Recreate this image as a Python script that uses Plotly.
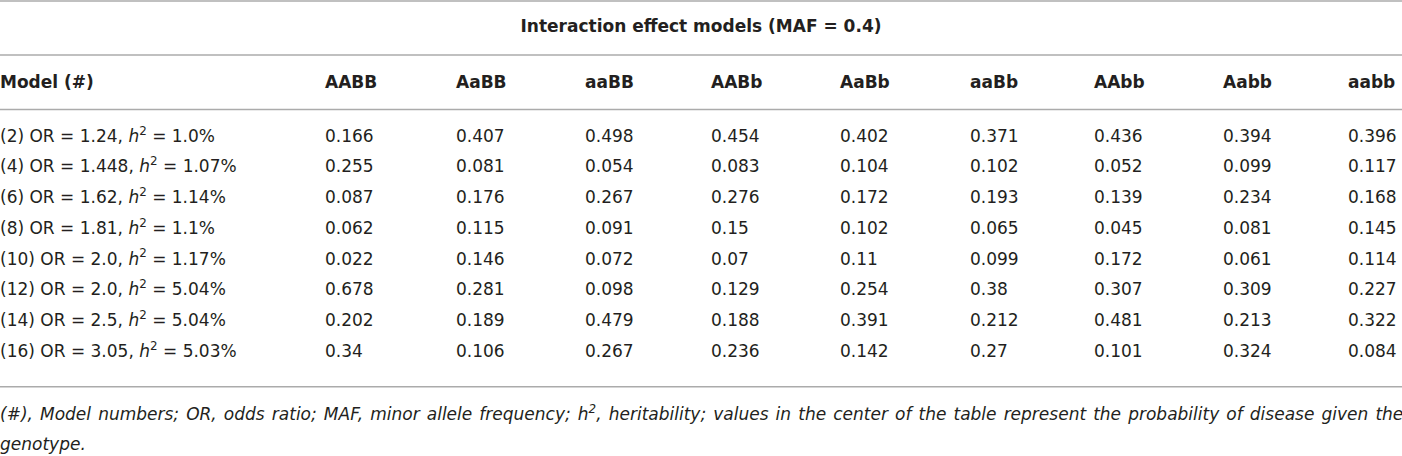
import plotly.graph_objects as go

# ---------------- data ----------------
title_text = "Interaction effect models (MAF = 0.4)"
first_header = "Model (#)"
genotypes = ["AABB", "AaBB", "aaBB", "AABb", "AaBb", "aaBb", "AAbb", "Aabb", "aabb"]
model_numbers = [2, 4, 6, 8, 10, 12, 14, 16]
odds_ratios = ["1.24", "1.448", "1.62", "1.81", "2.0", "2.0", "2.5", "3.05"]
heritabilities = ["1.0", "1.07", "1.14", "1.1", "1.17", "5.04", "5.04", "5.03"]

AABB = ["0.166", "0.255", "0.087", "0.062", "0.022", "0.678", "0.202", "0.34"]
AaBB = ["0.407", "0.081", "0.176", "0.115", "0.146", "0.281", "0.189", "0.106"]
aaBB = ["0.498", "0.054", "0.267", "0.091", "0.072", "0.098", "0.479", "0.267"]
AABb = ["0.454", "0.083", "0.276", "0.15", "0.07", "0.129", "0.188", "0.236"]
AaBb = ["0.402", "0.104", "0.172", "0.102", "0.11", "0.254", "0.391", "0.142"]
aaBb = ["0.371", "0.102", "0.193", "0.065", "0.099", "0.38", "0.212", "0.27"]
AAbb = ["0.436", "0.052", "0.139", "0.045", "0.172", "0.307", "0.481", "0.101"]
Aabb = ["0.394", "0.099", "0.234", "0.081", "0.061", "0.309", "0.213", "0.324"]
aabb = ["0.396", "0.117", "0.168", "0.145", "0.114", "0.227", "0.322", "0.084"]
value_columns = [AABB, AaBB, aaBB, AABb, AaBb, aaBb, AAbb, Aabb, aabb]

footnote_lines = [
    "(#), Model numbers; OR, odds ratio; MAF, minor allele frequency; h<sup>2</sup>, heritability; "
    "values in the center of the table represent the probability of disease given the",
    "genotype.",
]

# ---------------- layout constants ----------------
W, H = 1402, 456
FONT = "DejaVu Sans"
FS = 17
TXT = "#231f20"
LINE = "#ababab"
col_left = [325, 456, 585, 711, 840, 970, 1094, 1223, 1348]
row0, row_step = 137.5, 30.7
header_y = 84
title_y = 27.7
rule_y = [1, 55, 109.5, 386.7]
foot_y = [415.5, 445.5]

row_y = [row0 + row_step * i for i in range(len(model_numbers))]

model_labels = [
    f"({n}) OR = {o}, <i>h</i><sup>2</sup> = {h}%"
    for n, o, h in zip(model_numbers, odds_ratios, heritabilities)
]

# first footnote line is justified in the reference: widen its word gaps a little
foot_text = [footnote_lines[0].replace(" ", " \u200a"), footnote_lines[1]]

fig = go.Figure()

font_reg = dict(family=FONT, size=FS, color=TXT)

# title
fig.add_trace(go.Scatter(x=[W / 2], y=[title_y], mode="text", text=[f"<b>{title_text}</b>"],
                         textposition="middle center", textfont=font_reg, hoverinfo="skip"))
# header
fig.add_trace(go.Scatter(x=[0] + col_left, y=[header_y] * (len(genotypes) + 1), mode="text",
                         text=[f"<b>{t}</b>" for t in [first_header] + genotypes],
                         textposition="middle right", textfont=font_reg, hoverinfo="skip"))
# model labels
fig.add_trace(go.Scatter(x=[0] * len(model_labels), y=row_y, mode="text", text=model_labels,
                         textposition="middle right", textfont=font_reg, hoverinfo="skip"))
# value columns
for xl, col in zip(col_left, value_columns):
    fig.add_trace(go.Scatter(x=[xl] * len(col), y=row_y, mode="text", text=col,
                             textposition="middle right", textfont=font_reg, hoverinfo="skip"))
# footnote
fig.add_trace(go.Scatter(x=[0] * len(foot_text), y=foot_y, mode="text",
                         text=[f"<i>{t}</i>" for t in foot_text],
                         textposition="middle right", textfont=font_reg,
                         hoverinfo="skip"))

for yy in rule_y:
    fig.add_shape(type="line", xref="x", yref="y", x0=0, x1=W, y0=yy, y1=yy,
                  line=dict(color=LINE, width=1.6))

fig.update_layout(
    width=W, height=H, autosize=False,
    margin=dict(l=0, r=0, t=0, b=0, pad=0),
    paper_bgcolor="white", plot_bgcolor="white",
    showlegend=False,
    xaxis=dict(range=[0, W], visible=False, fixedrange=True),
    yaxis=dict(range=[H, 0], visible=False, fixedrange=True),
)

fig.write_html(
    "out.html",
    config={"displayModeBar": False, "staticPlot": True},
    post_script="document.body.style.margin='0';document.body.style.overflow='hidden';",
)
